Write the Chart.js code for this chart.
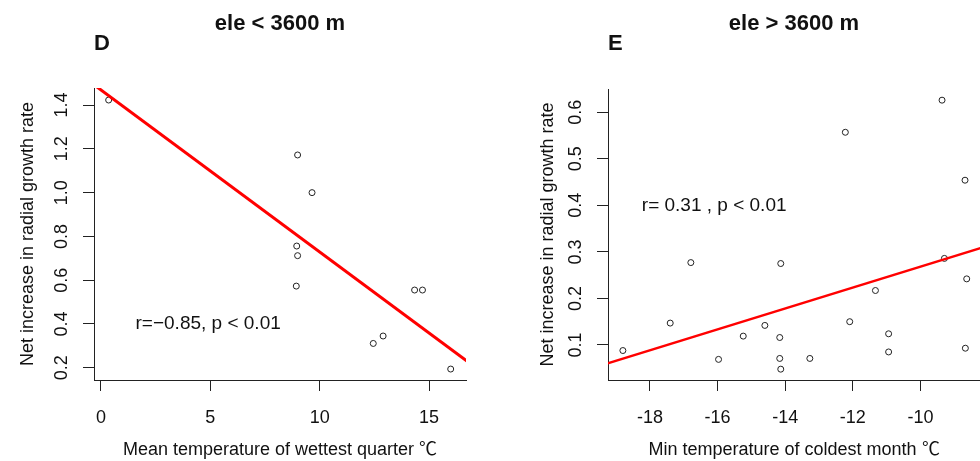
<!DOCTYPE html>
<html>
<head>
<meta charset="utf-8">
<script src="https://cdn.jsdelivr.net/npm/chart.js@4/dist/chart.umd.min.js"></script>
<style>
@font-face {
    font-family: "DegC";
    src: local("Noto Sans CJK SC"), local("Noto Sans CJK SC Regular"), local("NotoSansCJKsc-Regular");
    unicode-range: U+2103;
}
body { margin: 0; background: #fff; }
#wrap { position: relative; width: 980px; height: 461px; }
canvas { position: absolute; top: 0; }
#chartD { left: 0; }
#chartE { left: 490px; }
</style>
</head>
<body>
<div id="wrap">
<canvas id="chartD" width="490" height="461"></canvas>
<canvas id="chartE" width="490" height="461"></canvas>
</div>
<script>
// panel D : ele < 3600 m
var dX = [0.35, 8.99, 9.65, 8.95, 8.99, 8.93, 14.34, 14.7, 12.45, 12.9, 15.99]
var dY = [1.423, 1.172, 1.0, 0.756, 0.712, 0.573, 0.555, 0.555, 0.311, 0.345, 0.194]
var dFitX = [-0.5, 17]
var dFitY = [1.506, 0.211]
var dXTicks = [0, 5, 10, 15]
var dYTicks = [0.2, 0.4, 0.6, 0.8, 1.0, 1.2, 1.4]

// panel E : ele > 3600 m
var eX = [-9.36, -12.22, -8.68, -16.79, -14.13, -9.29, -8.63, -11.33, -17.4, -14.6, -12.09,
          -15.24, -14.16, -10.94, -18.8, -15.97, -14.16, -13.27, -10.94, -8.67, -14.13]
var eY = [0.626, 0.557, 0.454, 0.277, 0.275, 0.286, 0.242, 0.217, 0.147, 0.142, 0.150,
          0.119, 0.116, 0.124, 0.088, 0.069, 0.071, 0.071, 0.085, 0.093, 0.048]
var eFitX = [-19.5, -8]
var eFitY = [0.055, 0.313]
var eXTicks = [-18, -16, -14, -12, -10]
var eYTicks = [0.1, 0.2, 0.3, 0.4, 0.5, 0.6]

var FONT = '"DegC", "Liberation Sans", Arial, "Noto Sans CJK SC", sans-serif'
Chart.defaults.font.family = FONT
Chart.defaults.color = '#111'

function toPoints(xs, ys) {
    return xs.map(function (x, i) { return {x: x, y: ys[i]} })
}

var panelText = {
    id: 'panelText',
    afterDraw: function (chart, args, opts) {
        var ctx = chart.ctx
        var area = chart.chartArea
        var xs = chart.scales.x
        var ys = chart.scales.y
        ctx.save()
        ctx.fillStyle = '#111'
        ctx.textBaseline = 'middle'

        ctx.font = 'bold 22px ' + FONT
        ctx.textAlign = 'center'
        ctx.fillText(opts.title, (area.left + area.right) / 2, 24)
        ctx.textAlign = 'left'
        ctx.fillText(opts.letter, area.left, 44)

        // R style vertical tick labels
        ctx.font = '18px ' + FONT
        ctx.textAlign = 'center'
        ys.ticks.forEach(function (t) {
            ctx.save()
            ctx.translate(area.left - 32, ys.getPixelForValue(t.value))
            ctx.rotate(-Math.PI / 2)
            ctx.fillText(t.value.toFixed(1), 0, 0)
            ctx.restore()
        })

        ctx.font = '19px ' + FONT
        ctx.fillText(opts.note, xs.getPixelForValue(opts.noteX), ys.getPixelForValue(opts.noteY))
        ctx.restore()
    }
}

function makeChart(id, p) {
    var ctx = document.getElementById(id).getContext('2d')
    return new Chart(ctx, {
        type: 'scatter',
        data: {
            datasets: [{
                data: toPoints(p.fitX, p.fitY),
                showLine: true,
                borderColor: '#ff0000',
                borderWidth: p.lineWidth,
                pointRadius: 0
            }, {
                data: toPoints(p.xs, p.ys),
                pointRadius: 3,
                pointBorderWidth: 1,
                borderColor: '#222',
                backgroundColor: 'rgba(255,255,255,0)'
            }]
        },
        plugins: [panelText],
        options: {
            responsive: false,
            animation: false,
            devicePixelRatio: 1,
            layout: {padding: p.padding, autoPadding: false},
            plugins: {
                legend: {display: false},
                tooltip: {enabled: false},
                panelText: {title: p.title, letter: p.letter, note: p.note, noteX: p.noteX, noteY: p.noteY}
            },
            scales: {
                x: {
                    type: 'linear',
                    min: p.xMin,
                    max: p.xMax,
                    afterBuildTicks: function (s) { s.ticks = p.xTicks.map(function (v) { return {value: v} }) },
                    afterFit: function (s) { s.height = 81 },
                    border: {color: '#222', width: 1},
                    grid: {drawOnChartArea: false, drawTicks: true, tickLength: 11, color: '#222'},
                    ticks: {font: {size: 18}, padding: 16, color: '#111', maxRotation: 0,
                            callback: function (v) { return String(v) }},
                    title: {display: true, text: p.xTitle, font: {size: 18}, color: '#111', padding: {top: 0, bottom: 0}}
                },
                y: {
                    type: 'linear',
                    min: p.yMin,
                    max: p.yMax,
                    afterBuildTicks: function (s) { s.ticks = p.yTicks.map(function (v) { return {value: v} }) },
                    afterFit: function (s) { s.width = p.yAxisWidth },
                    border: {color: '#222', width: 1},
                    grid: {drawOnChartArea: false, drawTicks: true, tickLength: 11, color: '#222'},
                    ticks: {display: false},
                    title: {display: true, text: 'Net increase in radial growth rate', font: {size: 18},
                            color: '#111', padding: {top: p.yTitlePad, bottom: 0}}
                }
            }
        }
    })
}

function drawAll() {
    makeChart('chartD', {
        xs: dX, ys: dY, fitX: dFitX, fitY: dFitY, xTicks: dXTicks, yTicks: dYTicks,
        xMin: -0.32, xMax: 16.69, yMin: 0.144, yMax: 1.478,
        lineWidth: 3,
        padding: {top: 88, right: 24, left: 0, bottom: 0},
        yAxisWidth: 94, yTitlePad: 17,
        title: 'ele < 3600 m', letter: 'D',
        note: 'r=\u22120.85, p < 0.01', noteX: 4.9, noteY: 0.4,
        xTitle: 'Mean temperature of wettest quarter \u2103'
    })

    makeChart('chartE', {
        xs: eX, ys: eY, fitX: eFitX, fitY: eFitY, xTicks: eXTicks, yTicks: eYTicks,
        xMin: -19.24, xMax: -8.237, yMin: 0.0247, yMax: 0.65,
        lineWidth: 2.5,
        padding: {top: 89, right: 0, left: 0, bottom: 0},
        yAxisWidth: 118, yTitlePad: 47,
        title: 'ele > 3600 m', letter: 'E',
        note: 'r= 0.31 , p < 0.01', noteX: -16.1, noteY: 0.4,
        xTitle: 'Min temperature of coldest month \u2103'
    })
}

// wait for the local CJK face used for the degree sign
document.fonts.load('18px "DegC"', '\u2103').then(drawAll, drawAll)
</script>
</body>
</html>
